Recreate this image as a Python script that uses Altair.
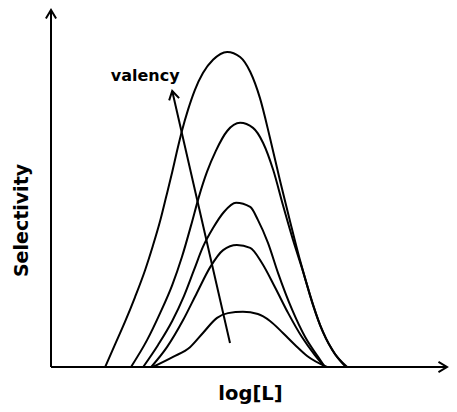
import altair as alt
import pandas as pd

# ---- data (x: log[L] arbitrary units, y: selectivity, peak of largest = 1) ----
c1_x = [1.34, 1.58, 1.83, 2.08, 2.33, 2.52, 2.70, 2.85, 3.00, 3.12, 3.24, 3.39, 3.56, 3.76, 4.01, 4.36,
        4.68, 4.93, 5.17, 5.42, 5.67, 5.92, 6.16, 6.41, 6.66, 6.96, 7.33]
c1_y = [0.0, 0.070, 0.143, 0.222, 0.308, 0.384, 0.463, 0.540, 0.619, 0.686, 0.749, 0.816, 0.879, 0.933, 0.975, 1.0,
        0.984, 0.937, 0.854, 0.727, 0.590, 0.460, 0.340, 0.229, 0.133, 0.054, 0.0]

c2_x = [1.98, 2.38, 2.70, 3.00, 3.24, 3.47, 3.66, 3.86, 4.08, 4.36, 4.68, 5.00, 5.25, 5.50, 5.74, 5.99, 6.24, 6.49, 6.73, 7.03, 7.30]
c2_y = [0.0, 0.086, 0.171, 0.260, 0.349, 0.451, 0.540, 0.619, 0.686, 0.749, 0.775, 0.759, 0.711, 0.625, 0.514, 0.403, 0.302, 0.194, 0.111, 0.041, 0.0]

c3_x = [2.28, 2.65, 3.00, 3.29, 3.54, 3.76, 4.01, 4.28, 4.58, 4.93, 5.12, 5.37, 5.62, 5.97, 6.29, 6.61, 6.78]
c3_y = [0.0, 0.070, 0.146, 0.225, 0.308, 0.381, 0.441, 0.492, 0.521, 0.508, 0.467, 0.394, 0.298, 0.181, 0.095, 0.032, 0.0]

c4_x = [2.48, 2.87, 3.27, 3.61, 3.94, 4.26, 4.60, 4.93, 5.22, 5.54, 5.87, 6.21, 6.53, 6.78]
c4_y = [0.0, 0.063, 0.149, 0.235, 0.317, 0.371, 0.387, 0.378, 0.330, 0.254, 0.171, 0.095, 0.038, 0.0]

c5_x = [2.52, 3.02, 3.44, 3.76, 4.11, 4.38, 4.75, 5.12, 5.42, 5.74, 6.04, 6.34, 6.83]
c5_y = [0.0, 0.032, 0.063, 0.108, 0.156, 0.171, 0.175, 0.168, 0.146, 0.108, 0.070, 0.035, 0.0]

curves_x = [c1_x, c2_x, c3_x, c4_x, c5_x]
curves_y = [c1_y, c2_y, c3_y, c4_y, c5_y]

# axis extents and the "valency" arrow (data units)
x_view = 9.85
x_max = 9.80
y_max = 1.133
valency_from = (4.43, 0.076)
valency_to = (3.00, 0.876)
valency_label = "valency"
valency_label_pos = (2.33, 0.908)

# ---- build tables ----
rows = []
for i, (xs_, ys_) in enumerate(zip(curves_x, curves_y)):
    for j, (xv, yv) in enumerate(zip(xs_, ys_)):
        rows.append({"curve": i + 1, "order": j, "x": xv, "y": yv})
curves = pd.DataFrame(rows)

axes_df = pd.DataFrame([
    {"x": 0.0, "y": 0.0, "x2": x_max, "y2": 0.0},
    {"x": 0.0, "y": 0.0, "x2": 0.0, "y2": y_max},
    {"x": valency_from[0], "y": valency_from[1], "x2": valency_to[0], "y2": valency_to[1]},
])
heads_df = pd.DataFrame([
    {"x": x_max, "y": 0.0, "angle": 90},
    {"x": 0.0, "y": y_max, "angle": 0},
    {"x": valency_to[0], "y": valency_to[1], "angle": 347},
])
label_df = pd.DataFrame([{"x": valency_label_pos[0], "y": valency_label_pos[1], "t": valency_label}])

FONT = "DejaVu Sans"
xs = alt.Scale(domain=[0, x_view], nice=False, zero=False)
ys = alt.Scale(domain=[0, y_max], nice=False, zero=False)

lines = alt.Chart(curves).mark_line(
    color="black", strokeWidth=2, interpolate="monotone"
).encode(
    x=alt.X("x:Q", scale=xs, axis=alt.Axis(
        title="log[L]", domain=False, ticks=False, labels=False, grid=False,
        titleFont=FONT, titleFontWeight="bold", titleFontSize=19.5, titleColor="black",
        titleX=199, titleY=32, titleAlign="center", titleBaseline="alphabetic")),
    y=alt.Y("y:Q", scale=ys, axis=alt.Axis(
        title="Selectivity", domain=False, ticks=False, labels=False, grid=False,
        titleFont=FONT, titleFontWeight="bold", titleFontSize=19, titleColor="black",
        titleAngle=270, titleX=-23.5, titleY=210, titleAlign="center", titleBaseline="alphabetic")),
    detail="curve:N",
    order="order:Q",
)

segs = alt.Chart(axes_df).mark_rule(color="black", strokeWidth=2).encode(
    x=alt.X("x:Q", scale=xs), y=alt.Y("y:Q", scale=ys), x2="x2:Q", y2="y2:Q"
)

heads = alt.Chart(heads_df).mark_point(
    shape="M-0.6,1 L0,0 L0.6,1", filled=False, color="black", strokeWidth=2,
    size=289, opacity=1, strokeJoin="miter"
).encode(
    x=alt.X("x:Q", scale=xs), y=alt.Y("y:Q", scale=ys),
    angle=alt.Angle("angle:Q", scale=None),
)

label = alt.Chart(label_df).mark_text(
    font=FONT, fontWeight="bold", fontSize=16, color="black",
    align="center", baseline="alphabetic"
).encode(x=alt.X("x:Q", scale=xs), y=alt.Y("y:Q", scale=ys), text="t:N")

chart = alt.layer(lines, segs, heads, label).properties(
    width=398, height=357,
    autosize=alt.AutoSizeParams(type="none"),
    padding={"left": 43, "top": 2, "right": 0, "bottom": 37},
    background="white",
).configure_view(strokeWidth=0, stroke="transparent")

chart.save("out.html", embed_options={"renderer": "svg", "actions": False})
